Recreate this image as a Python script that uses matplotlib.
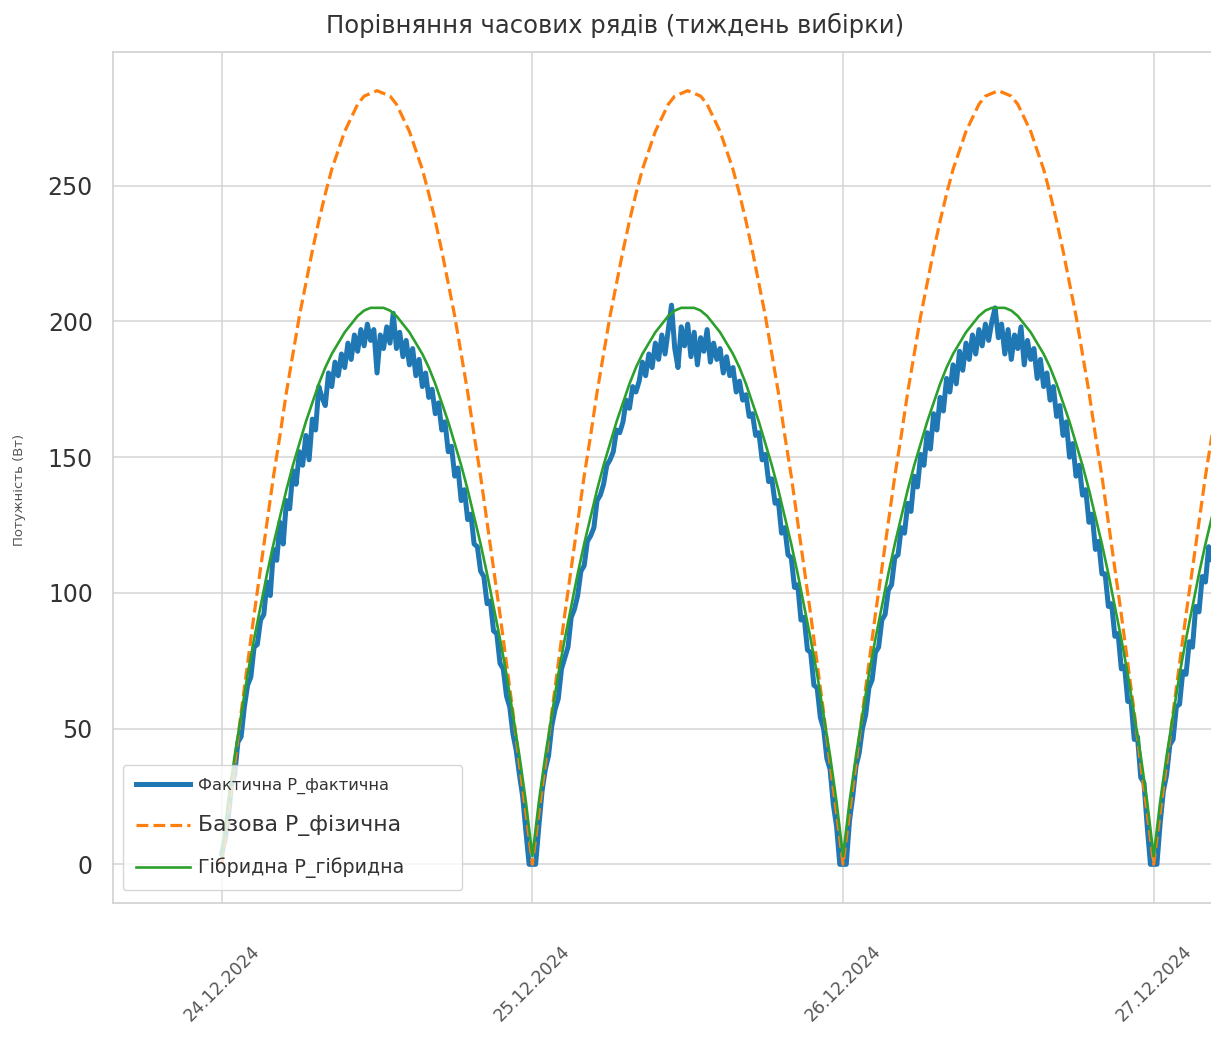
import matplotlib
matplotlib.use("Agg")
import matplotlib.pyplot as plt
import matplotlib.dates as mdates
import matplotlib.ticker as mticker
import pandas as pd

# measured power, 15-minute samples per day
actual_2412 = [4, 9, 17, 29, 33, 45, 47, 58, 66, 69, 80, 81, 90, 92, 104, 99,
               116, 112, 126, 118, 134, 131, 145, 140, 152, 147, 158, 149, 164, 160, 176, 172,
               169, 181, 176, 185, 180, 188, 183, 192, 186, 195, 189, 197, 191, 199, 193, 197,
               181, 195, 190, 198, 192, 203, 190, 196, 187, 193, 184, 190, 180, 186, 176, 181,
               172, 175, 166, 170, 160, 163, 152, 154, 143, 146, 134, 138, 127, 129, 118, 117,
               108, 106, 96, 97, 86, 85, 74, 72, 62, 58, 48, 42, 33, 25, 12, 0]
actual_2512 = [0, 0, 14, 27, 35, 40, 51, 57, 61, 72, 76, 80, 91, 94, 99, 108,
               110, 119, 121, 124, 134, 136, 140, 147, 149, 152, 160, 159, 163, 171, 168, 176,
               174, 178, 185, 180, 188, 183, 192, 186, 195, 188, 197, 206, 190, 183, 198, 191,
               199, 187, 196, 184, 194, 189, 197, 185, 192, 186, 190, 181, 187, 180, 183, 174,
               178, 171, 173, 165, 166, 158, 159, 149, 151, 141, 142, 133, 134, 122, 124, 114,
               113, 102, 103, 90, 91, 79, 78, 66, 65, 54, 50, 39, 35, 22, 14, 0]
actual_2612 = [0, 0, 16, 25, 36, 41, 50, 55, 65, 68, 78, 80, 90, 92, 101, 103,
               113, 114, 124, 122, 133, 130, 143, 139, 151, 147, 159, 153, 166, 160, 172, 167,
               179, 174, 184, 177, 189, 182, 192, 186, 195, 188, 197, 191, 199, 193, 200, 205,
               194, 199, 188, 197, 186, 195, 190, 198, 184, 193, 186, 190, 179, 186, 176, 181,
               171, 176, 165, 169, 158, 163, 150, 155, 143, 147, 136, 138, 126, 129, 116, 119,
               107, 107, 95, 96, 84, 85, 72, 73, 60, 60, 46, 47, 32, 30, 14, 0]
actual_2712 = [0, 0, 15, 27, 33, 44, 46, 58, 59, 71, 70, 82, 80, 95, 93, 106,
               104, 117, 112, 125]

# physical model, 30-minute steps
base_2412 = [0, 19, 37, 56, 74, 92, 109, 126, 143, 158, 174, 188, 202, 214, 226, 237,
             247, 256, 263, 270, 275, 280, 283, 284, 285, 284, 283, 280, 275, 270, 263, 256,
             247, 237, 226, 214, 202, 188, 174, 158, 143, 126, 109, 92, 74, 56, 37, 19]
base_2512 = [0, 19, 37, 56, 74, 92, 109, 126, 143, 158, 174, 188, 202, 214, 226, 237,
             247, 256, 263, 270, 275, 280, 283, 284, 285, 284, 283, 280, 275, 270, 263, 256,
             247, 237, 226, 214, 202, 188, 174, 158, 143, 126, 109, 92, 74, 56, 37, 19]
base_2612 = [0, 19, 37, 56, 74, 92, 109, 126, 143, 158, 174, 188, 202, 214, 226, 237,
             247, 256, 263, 270, 275, 280, 283, 284, 285, 284, 283, 280, 275, 270, 263, 256,
             247, 237, 226, 214, 202, 188, 174, 158, 143, 126, 109, 92, 74, 56, 37, 19]
base_2712 = [0, 19, 37, 56, 74, 92, 109, 126, 143, 158, 174]

# hybrid model, 30-minute steps
hybrid_2412 = [3, 23, 40, 55, 70, 83, 95, 107, 118, 128, 138, 147, 155, 163, 170, 177,
               183, 188, 192, 196, 199, 202, 204, 205, 205, 205, 204, 202, 199, 196, 192, 188,
               183, 177, 170, 163, 155, 147, 138, 128, 118, 107, 95, 83, 70, 55, 40, 23]
hybrid_2512 = [3, 23, 40, 55, 70, 83, 95, 107, 118, 128, 138, 147, 155, 163, 170, 177,
               183, 188, 192, 196, 199, 202, 204, 205, 205, 205, 204, 202, 199, 196, 192, 188,
               183, 177, 170, 163, 155, 147, 138, 128, 118, 107, 95, 83, 70, 55, 40, 23]
hybrid_2612 = [3, 23, 40, 55, 70, 83, 95, 107, 118, 128, 138, 147, 155, 163, 170, 177,
               183, 188, 192, 196, 199, 202, 204, 205, 205, 205, 204, 202, 199, 196, 192, 188,
               183, 177, 170, 163, 155, 147, 138, 128, 118, 107, 95, 83, 70, 55, 40, 23]
hybrid_2712 = [3, 23, 40, 55, 70, 83, 95, 107, 118, 128, 138]

tick_days = ["2024-12-24", "2024-12-25", "2024-12-26", "2024-12-27"]
y_ticks = [0, 50, 100, 150, 200, 250]
legend_sizes = [11.6, 15.8, 13.7]

actual = actual_2412 + actual_2512 + actual_2612 + actual_2712
base = base_2412 + base_2512 + base_2612 + base_2712
hybrid = hybrid_2412 + hybrid_2512 + hybrid_2612 + hybrid_2712

t_actual = pd.date_range("2024-12-24 00:00", periods=len(actual), freq="15min")
t_model = pd.date_range("2024-12-24 00:00", periods=len(base), freq="30min")

plt.rcParams["font.family"] = ["DejaVu Sans"]

fig = plt.figure(figsize=(12.11, 10.47), dpi=100)
fig.patch.set_facecolor("white")
# the week axis runs on past the right edge of the figure
ax = fig.add_axes([113 / 1211, 144 / 1047, 2392 / 1211, 851 / 1047])
ax.set_facecolor("white")

ax.plot(t_actual, actual, color="#1f77b4", lw=3.6, label="Фактична P_фактична")
ax.plot(t_model, base, color="#ff7f0e", lw=2.3, ls="--", label="Базова P_фізична")
ax.plot(t_model, hybrid, color="#2ca02c", lw=1.9, label="Гібридна P_гібридна")

week_start = pd.Timestamp("2024-12-24")
ax.set_xlim(mdates.date2num(week_start - pd.Timedelta(hours=8.4)),
            mdates.date2num(week_start + pd.Timedelta(days=7, hours=8.4)))
ax.set_ylim(-14.25, 299.25)
ax.set_yticks(y_ticks)
ax.xaxis.set_major_locator(mticker.FixedLocator(mdates.date2num(pd.to_datetime(tick_days))))
ax.xaxis.set_major_formatter(mdates.DateFormatter("%d.%m.%Y"))

ax.grid(True, color="#d4d4d4", lw=1.1)
ax.set_axisbelow(True)
for side in ax.spines.values():
    side.set_color("#d4d4d4")
    side.set_linewidth(1.3)
ax.tick_params(axis="both", length=0, colors="#333333")
ax.tick_params(axis="y", labelsize=17, pad=14.5)
ax.tick_params(axis="x", labelsize=12.5, pad=28)
for lbl in ax.get_xticklabels():
    lbl.set_rotation(45)
    lbl.set_ha("center")
    lbl.set_color("#555555")

fig.text(615 / 1211, 1 - 25 / 1047, "Порівняння часових рядів (тиждень вибірки)",
         ha="center", va="center", fontsize=17.5, color="#333333")
fig.text(20 / 1211, 1 - 490 / 1047, "Потужність (Вт)", rotation=90,
         ha="center", va="center", fontsize=9.5, color="#555555")

leg = ax.legend(loc="lower left", mode="expand",
                bbox_to_anchor=(123 / 1211, 1 - 890 / 1047, 339 / 1211, 125 / 1047),
                bbox_transform=fig.transFigure, borderaxespad=0, fontsize=12,
                borderpad=0.75, handlelength=3.25, handletextpad=0.5, labelspacing=1.25,
                frameon=True, framealpha=0.8, edgecolor="#cccccc")
for txt, s in zip(leg.get_texts(), legend_sizes):
    txt.set_fontsize(s)
    txt.set_color("#333333")

fig.savefig("out.png", dpi=100, facecolor="white")
